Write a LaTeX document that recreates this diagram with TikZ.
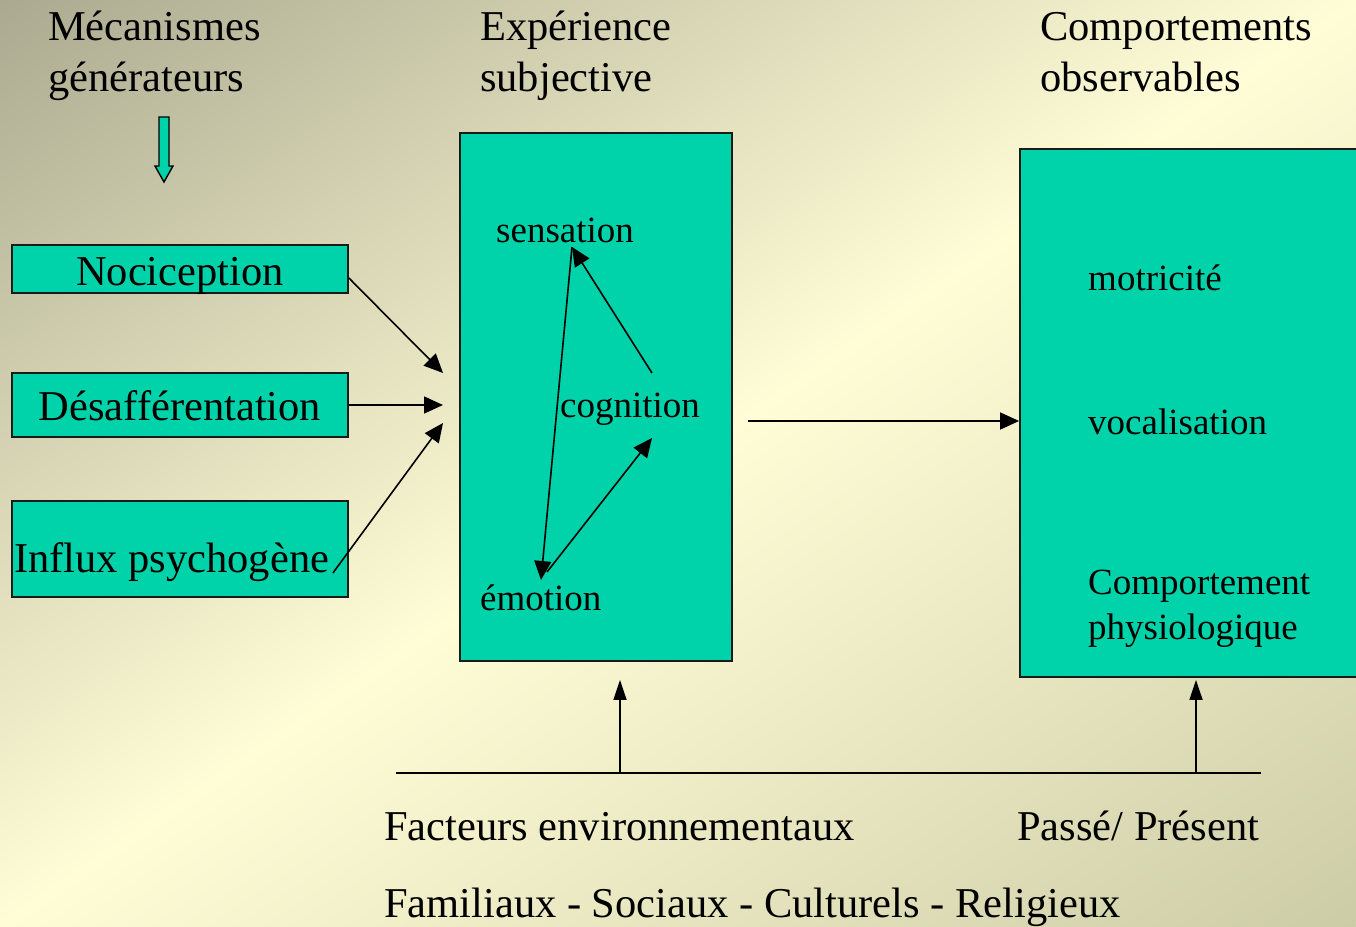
\documentclass[tikz,border=0pt]{standalone}
\usepackage{fontspec}
\setmainfont{Liberation Serif}
\usepackage{xcolor}
\usetikzlibrary{arrows.meta}
\definecolor{turq}{HTML}{00D2AA}
\definecolor{bgdark}{HTML}{ABAA90}
\definecolor{bglight}{HTML}{FFFDD6}
\definecolor{bgmid}{HTML}{CCCCA6}
\tikzset{Box/.style={rectangle,draw=black!90,line width=1.8pt,fill=turq,inner sep=0pt}}
\tikzset{Big/.style={font=\fontsize{42.5}{51}\selectfont,inner sep=0pt}}
\tikzset{Small/.style={font=\fontsize{37}{45}\selectfont,inner sep=0pt}}
\tikzset{Arr/.style={line width=1.6pt,-{Triangle[length=19pt,width=17pt]}}}
\tikzset{ArrUp/.style={line width=1.6pt,-{Triangle[length=20pt,width=13pt]}}}

\begin{document}
\begin{tikzpicture}[x=1pt,y=-1pt]
    \useasboundingbox (0,0) rectangle (1356,926);
    % fond
    \begin{scope}
      \clip (0,0) rectangle (1356,926);
      \begin{scope}[transform canvas={rotate around={-55.7:(678,463)}}]
        \shade[left color=bgdark,right color=bgmid,middle color=bglight] (-87,-437) rectangle (1443,1363);
      \end{scope}
    \end{scope}
    % titres
    \node[Big,anchor=base west,align=left] (meca) at (48,91) {Mécanismes\\générateurs};
    \node[Big,anchor=base west,align=left] (expe) at (480,91) {Expérience\\subjective};
    \node[Big,anchor=base west,align=left] (obse) at (1040,91) {Comportements\\observables};
    \draw[fill=turq,line width=1.4pt] (159,117) -- (169,117) -- (169,166) -- (173,166) -- (164,182) -- (155,166) -- (159,166) -- cycle;
    % mecanismes
    \node[Box,Big,minimum width=336pt,text height=40pt,text depth=8pt] (noci) at (180,269) {Nociception};
    \node[Box,Big,minimum width=336pt,text height=47pt,text depth=17pt] (desaff) at (180,405) {Désafférentation};
    \node[Box,Big,text width=332pt,inner xsep=2pt,align=flush left,text height=71pt,text depth=25pt] (influx) at (180,549) {Influx psychogène};
    % experience
    \node[Box,minimum width=272pt,minimum height=528pt] (exp) at (596,397) {};
    \node[Small,anchor=base west] (sens) at (496,242) {sensation};
    \node[Small,anchor=base west] (cogn) at (560,417) {cognition};
    \node[Small,anchor=base west] (emo) at (480,610) {émotion};
    % comportements
    \node[Box,minimum width=346pt,minimum height=528pt] (comp) at (1193,413) {};
    \node[Small,anchor=base west] (motr) at (1088,290) {motricité};
    \node[Small,anchor=base west] (voca) at (1088,434) {vocalisation};
    \node[Small,anchor=base west,align=left] (physio) at (1088,639) {Comportement\\physiologique};
    % facteurs
    \node[Big,anchor=base west] (envir) at (384,840) {Facteurs environnementaux};
    \node[Big,anchor=base west] (passe) at (1017,840) {Passé/ Présent};
    \node[Big,anchor=base west] (famil) at (384,917) {Familiaux - Sociaux - Culturels - Religieux};
    \coordinate (in1) at (443,373);
    \coordinate (in2) at (443,405);
    \coordinate (in3) at (443,423);
    \coordinate (sensB) at (572,247);
    \coordinate (cognT) at (652,373);
    \coordinate (cognB) at (652,438);
    \coordinate (emoT) at (541,580);
    \coordinate (emoR) at (547,572);
    \coordinate (out) at (748,421);
    \coordinate (baseL) at (396,773);
    \coordinate (baseR) at (1261,773);
    \coordinate (envUp) at (620,773);
    \coordinate (pasUp) at (1196,773);
    \begin{scope}[Arr]
      \draw ([yshift=-9pt]noci.east) -- (in1);
      \draw (desaff.east) -- (in2);
      \draw ([xshift=-16pt,yshift=-24pt]influx.east) -- (in3);
      \draw (cognT) -- (sensB);
      \draw (sensB) -- (emoT);
      \draw (emoR) -- (cognB);
      \draw (out) -- (comp.west |- out);
    \end{scope}
    \draw[line width=1.6pt] (baseL) -- (baseR);
    \draw[ArrUp] (envUp) -- ([yshift=-18pt]exp.south -| envUp);
    \draw[ArrUp] (pasUp) -- ([yshift=-2pt]comp.south -| pasUp);
\end{tikzpicture}
\end{document}
